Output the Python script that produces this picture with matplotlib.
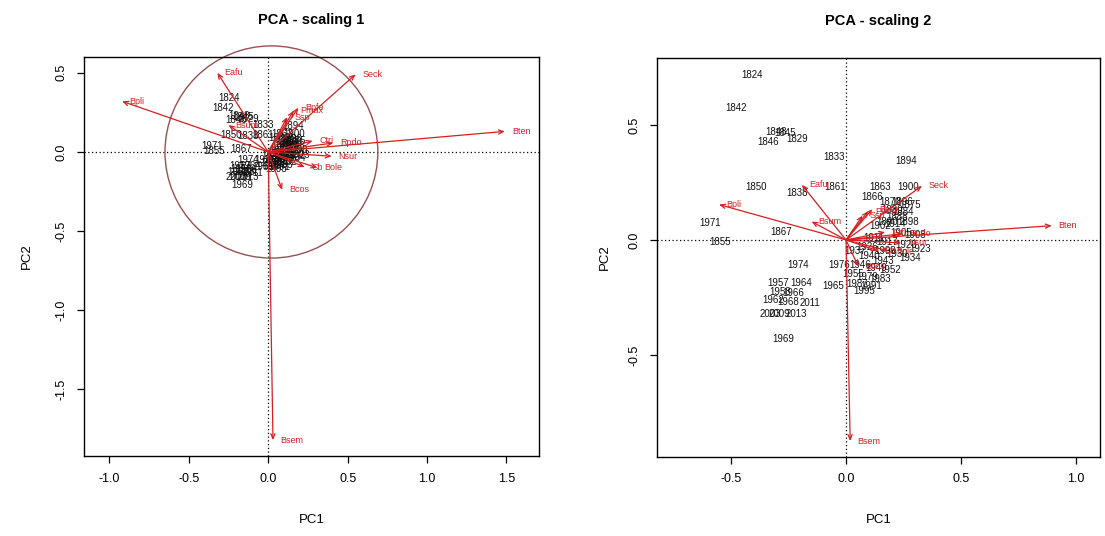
import matplotlib
matplotlib.use("Agg")
import matplotlib.pyplot as plt
from matplotlib.patches import Circle

plt.rcParams['font.family'] = ['Liberation Sans', 'DejaVu Sans']

# site scores, scaling 2 (years)
s2_years = [1824, 1842, 1848, 1845, 1846, 1829, 1833, 1850, 1838, 1861,
            1971, 1867, 1855, 1894, 1863, 1900, 1866, 1896, 1914, 1974,
            1957, 1964, 1958, 1966, 1962, 1968, 2011, 2003, 2009, 2013,
            1969, 1965, 1976,
            1870, 1875, 1880, 1884, 1888, 1890, 1898, 1902, 1905, 1908,
            1911, 1917, 1920, 1923, 1926, 1930, 1934, 1937, 1940, 1943,
            1946, 1949, 1952, 1955, 1979, 1983, 1987, 1991, 1995, 1999]
s2_pc1 = [-0.410, -0.478, -0.304, -0.265, -0.338, -0.214, -0.052, -0.391, -0.214, -0.048,
          -0.591, -0.280, -0.548, 0.261, 0.148, 0.271, 0.112, 0.242, 0.213, -0.207,
          -0.294, -0.193, -0.287, -0.229, -0.316, -0.250, -0.157, -0.330, -0.290, -0.214,
          -0.273, -0.057, -0.030,
          0.190, 0.280, 0.200, 0.250, 0.220, 0.180, 0.270, 0.150, 0.240, 0.300,
          0.120, 0.180, 0.260, 0.320, 0.090, 0.220, 0.280, 0.040, 0.100, 0.160,
          0.060, 0.130, 0.190, 0.030, 0.090, 0.150, 0.050, 0.110, 0.080, 0.170]
s2_pc2 = [0.717, 0.573, 0.471, 0.466, 0.427, 0.438, 0.360, 0.229, 0.206, 0.229,
          0.075, 0.036, -0.007, 0.343, 0.232, 0.232, 0.188, 0.167, 0.070, -0.109,
          -0.188, -0.188, -0.225, -0.232, -0.261, -0.268, -0.275, -0.322, -0.322, -0.322,
          -0.432, -0.200, -0.109,
          0.165, 0.150, 0.130, 0.120, 0.100, 0.080, 0.080, 0.060, 0.030, 0.020,
          0.010, -0.010, -0.020, -0.040, -0.030, -0.060, -0.080, -0.050, -0.070, -0.090,
          -0.110, -0.120, -0.130, -0.150, -0.160, -0.170, -0.190, -0.200, -0.220, -0.050]

# site scores, scaling 1
s1_pc1 = [-0.246, -0.287, -0.182, -0.159, -0.203, -0.128, -0.031, -0.235, -0.128, -0.029,
          -0.355, -0.168, -0.340, 0.157, 0.089, 0.163, 0.067, 0.145, 0.128, -0.124,
          -0.176, -0.116, -0.172, -0.137, -0.190, -0.150, -0.094, -0.198, -0.174, -0.128,
          -0.164, -0.034, -0.018,
          0.114, 0.168, 0.120, 0.150, 0.132, 0.108, 0.162, 0.090, 0.144, 0.180,
          0.072, 0.108, 0.156, 0.192, 0.054, 0.132, 0.168, 0.024, 0.060, 0.096,
          0.036, 0.078, 0.114, 0.018, 0.054, 0.090, 0.030, 0.066, 0.048, 0.102]
s1_pc2 = [0.344, 0.275, 0.226, 0.224, 0.205, 0.210, 0.173, 0.110, 0.099, 0.110,
          0.036, 0.017, 0.008, 0.165, 0.111, 0.111, 0.090, 0.080, 0.034, -0.052,
          -0.090, -0.090, -0.108, -0.111, -0.125, -0.129, -0.132, -0.155, -0.155, -0.155,
          -0.207, -0.096, -0.052,
          0.079, 0.072, 0.062, 0.058, 0.048, 0.038, 0.038, 0.029, 0.014, 0.010,
          0.005, -0.005, -0.010, -0.019, -0.014, -0.029, -0.038, -0.024, -0.034, -0.043,
          -0.053, -0.058, -0.062, -0.072, -0.077, -0.082, -0.091, -0.096, -0.106, -0.024]

# species loadings
species = ["Eafu", "Bpli", "Seck", "Bpfe", "Bten", "Rpdo", "Nsur", "Cb", "Bole",
           "Bcos", "Bsem", "Bsum", "Pmax", "Ssp", "Ctri"]
sp1_pc1 = [-0.32, -0.92, 0.55, 0.19, 1.49, 0.41, 0.40, 0.23, 0.31, 0.088, 0.03, -0.25, 0.16, 0.12, 0.28]
sp1_pc2 = [0.50, 0.32, 0.49, 0.28, 0.13, 0.057, -0.027, -0.095, -0.10, -0.24, -1.82, 0.17, 0.26, 0.22, 0.07]
sp2_pc1 = [-0.192, -0.552, 0.330, 0.114, 0.894, 0.246, 0.240, 0.138, 0.186, 0.053, 0.018, -0.150, 0.096, 0.072, 0.170]
sp2_pc2 = [0.240, 0.154, 0.235, 0.134, 0.062, 0.027, -0.013, -0.047, -0.048, -0.115, -0.874, 0.080, 0.125, 0.106, 0.034]

circle_radius = 0.67

RED = "#d42020"


def biplot(ax, sx, sy, spx, spy, title, xlim, ylim, xticks, yticks, ylab_x):
    ax.axhline(0, color="black", lw=0.9, ls=(0, (1, 2)), zorder=1)
    ax.axvline(0, color="black", lw=0.9, ls=(0, (1, 2)), zorder=1)

    for yr, x, y in zip(s2_years, sx, sy):
        ax.text(x, y, str(yr), ha="center", va="center", fontsize=7,
                color="#111111", zorder=2)

    for name, x, y in zip(species, spx, spy):
        ax.annotate("", xy=(x, y), xytext=(0, 0),
                    arrowprops=dict(arrowstyle="->,head_length=0.35,head_width=0.15",
                                    color=RED, lw=0.9, shrinkA=0, shrinkB=0),
                    zorder=3)
        ax.annotate(name, xy=(x, y), xytext=(5, 0), textcoords="offset points",
                    ha="left", va="center", fontsize=6.5, color=RED, zorder=4)

    ax.set_xlim(*xlim)
    ax.set_ylim(*ylim)
    ax.set_xticks(xticks)
    ax.set_yticks(yticks)
    ax.set_xticklabels([f"{t:.1f}" for t in xticks])
    ax.set_yticklabels([f"{t:.1f}" for t in yticks], rotation=90, va="center")
    ax.tick_params(direction="out", length=5, width=0.9, labelsize=9, pad=7)
    for sp in ax.spines.values():
        sp.set_linewidth(1.0)

    ax.set_title(title, fontsize=10.5, fontweight="bold", pad=24)
    ax.set_xlabel("PC1", fontsize=9.5)
    ax.set_ylabel("PC2", fontsize=9.5)
    ax.xaxis.label.set_va("center")
    ax.yaxis.label.set_va("center")
    ax.xaxis.set_label_coords(0.5, -0.16)
    ax.yaxis.set_label_coords(ylab_x, 0.5)


fig = plt.figure(figsize=(11.05, 5.36), dpi=100)
ax1 = fig.add_axes([0.076, 0.1493, 0.4118, 0.7444])
ax2 = fig.add_axes([0.5943, 0.148, 0.4012, 0.7438])

biplot(ax1, s1_pc1, s1_pc2, sp1_pc1, sp1_pc2, "PCA - scaling 1",
       (-1.16, 1.705), (-1.92, 0.60),
       [-1.0, -0.5, 0.0, 0.5, 1.0, 1.5], [0.5, 0.0, -0.5, -1.0, -1.5], -0.125)
# circle of equilibrium contribution
ax1.add_patch(Circle((0.02, 0.0), circle_radius, fill=False, ec="#9a5050",
                     lw=1.0, clip_on=False, zorder=2))

biplot(ax2, s2_pc1, s2_pc2, sp2_pc1, sp2_pc2, "PCA - scaling 2",
       (-0.823, 1.104), (-0.942, 0.791),
       [-0.5, 0.0, 0.5, 1.0], [0.5, 0.0, -0.5], -0.117)

fig.savefig("out.png", dpi=100)
